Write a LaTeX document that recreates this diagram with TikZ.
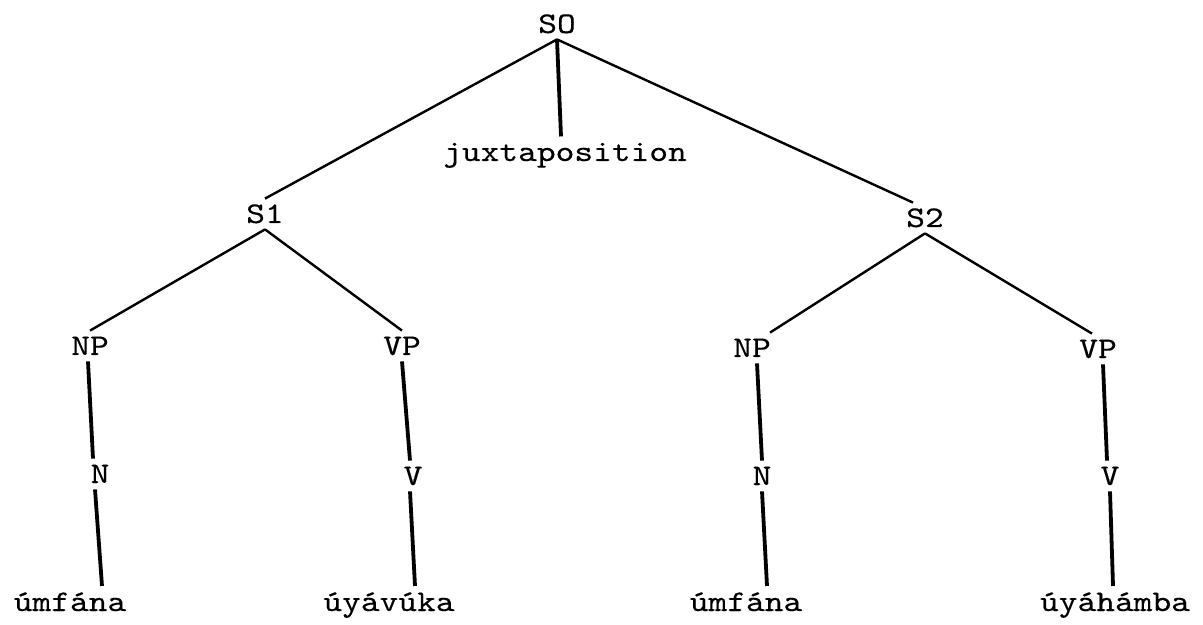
\documentclass[tikz,border=0pt]{standalone}
\usepackage{fontspec}
% typewriter face, widened to the typed pitch
\newfontfamily\typed{lmmono10-regular.otf}[FakeStretch=1.19,FakeBold=0.3]
\begin{document}
\begin{tikzpicture}[x=0.5pt,y=-0.5pt,
  every node/.style={font=\typed\fontsize{15}{18}\selectfont, inner xsep=0pt, inner ysep=3pt, anchor=base},
  cat/.style={text height=9pt, text depth=0pt},
  branch/.style={line width=1.2pt},
  stem/.style={line width=1.9pt}]
\useasboundingbox[fill=white] (0,0) rectangle (1203,625);

% category labels
\node[cat] (SO)  at (557,33)  {SO};
\node[cat] (S1)  at (265,223) {S1};
\node[cat] (S2)  at (925,227) {S2};
\node[cat] (NP1) at (90,355)  {NP};
\node[cat] (VP1) at (402,355) {VP};
\node[cat] (NP2) at (752,357) {NP};
\node[cat] (VP2) at (1098,358) {VP};
\node[cat] (N1)  at (100,483) {N};
\node[cat] (V1)  at (413,485) {V};
\node[cat] (N2)  at (762,485) {N};
\node[cat] (V2)  at (1110,485) {V};

% terminal words
\node (jx) at (565,161) {juxtaposition};
\node (w1) at (70,611)   {úmfána};
\node (w2) at (389,611)  {úyávúka};
\node (w3) at (746,611)  {úmfána};
\node (w4) at (1115,611) {úyáhámba};

% upper branches
\draw[branch] (SO.south) -- (S1.north);
\draw[stem]   (SO.south) -- ([xshift=-2pt]jx.north);
\draw[branch] (SO.south) -- ([xshift=-6pt]S2.north);
\draw[branch] (S1.south) -- (NP1.north);
\draw[branch] (S1.south) -- (VP1.north);
\draw[branch] (S2.south) -- ([xshift=9pt]NP2.north);
\draw[branch] (S2.south) -- ([xshift=-3pt]VP2.north);

% vertical stems
\draw[stem] ([xshift=-1pt]NP1.south) -- ([xshift=-3.5pt]N1.north);
\draw[stem] ([xshift=-2.5pt]N1.south) -- ([xshift=16pt]w1.north);
\draw[stem] (VP1.south) -- ([xshift=-1.5pt]V1.north);
\draw[stem] ([xshift=-1.5pt]V1.south) -- ([xshift=13pt]w2.north);
\draw[stem] ([xshift=2.5pt]NP2.south) -- (N2.north);
\draw[stem] (N2.south) -- ([xshift=10.5pt]w3.north);
\draw[stem] ([xshift=2.5pt]VP2.south) -- ([xshift=-1.5pt]V2.north);
\draw[stem] (V2.south) -- ([xshift=-1pt]w4.north);
\end{tikzpicture}
\end{document}
